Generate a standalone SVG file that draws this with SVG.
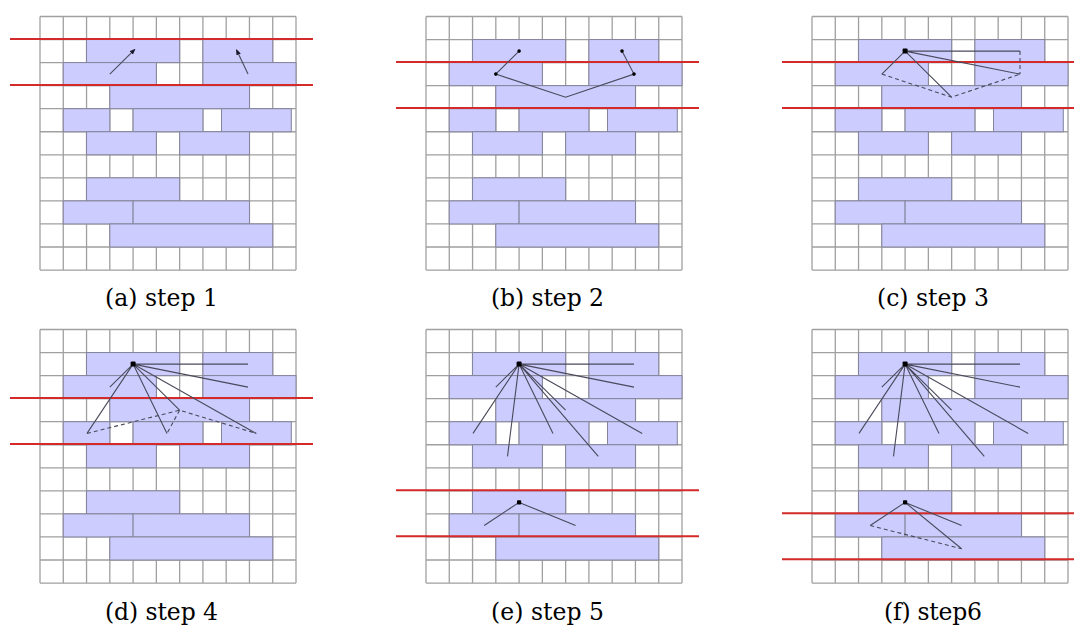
<svg xmlns="http://www.w3.org/2000/svg" xmlns:xlink="http://www.w3.org/1999/xlink" width="1074" height="628" viewBox="0 0 1074 628">
<style>
.gl{fill:none;stroke:#a0a0a0;stroke-width:1.3}
.br{fill:#ccccff;stroke:#84849a;stroke-width:1}
.red{stroke:#d42a2a;stroke-width:2;fill:none}
.ln{stroke:#4a4a5c;stroke-width:1.1;fill:none}
.dl{stroke:#4a4a5c;stroke-width:1.1;fill:none;stroke-dasharray:4 3}
.dot{fill:#000}
.cap{font-family:'DejaVu Serif','Liberation Serif',serif;font-size:23.5px;fill:#000}
</style>
<defs>
<marker id="ah" viewBox="0 0 10 10" refX="8" refY="5" markerWidth="6" markerHeight="6" orient="auto" markerUnits="userSpaceOnUse">
<path d="M0,1 L10,5 L0,9 Z" fill="#1a1a2a"/>
</marker>
<g id="grid">
<rect x="0" y="0" width="256" height="253.55" fill="#fff"/>
<path class="gl" d="M0 0V253.55M23.27 0V253.55M46.55 0V253.55M69.82 0V253.55M93.09 0V253.55M116.36 0V253.55M139.64 0V253.55M162.91 0V253.55M186.18 0V253.55M209.45 0V253.55M232.73 0V253.55M256 0V253.55M0 0H256M0 23.05H256M0 46.1H256M0 69.15H256M0 92.2H256M0 115.25H256M0 138.3H256M0 161.35H256M0 184.4H256M0 207.45H256M0 230.5H256M0 253.55H256"/>
<rect class="br" x="46.55" y="23.05" width="93.09" height="23.05"/>
<rect class="br" x="162.91" y="23.05" width="69.82" height="23.05"/>
<rect class="br" x="23.27" y="46.1" width="93.09" height="23.05"/>
<rect class="br" x="162.91" y="46.1" width="93.09" height="23.05"/>
<rect class="br" x="69.82" y="69.15" width="139.64" height="23.05"/>
<rect class="br" x="23.27" y="92.2" width="46.55" height="23.05"/>
<rect class="br" x="93.09" y="92.2" width="69.82" height="23.05"/>
<rect class="br" x="181.5" y="92.2" width="69.8" height="23.05"/>
<rect class="br" x="46.55" y="115.25" width="69.82" height="23.05"/>
<rect class="br" x="139.64" y="115.25" width="69.82" height="23.05"/>
<rect class="br" x="46.55" y="161.35" width="93.09" height="23.05"/>
<rect class="br" x="23.27" y="184.4" width="69.82" height="23.05"/>
<rect class="br" x="93.09" y="184.4" width="116.36" height="23.05"/>
<rect class="br" x="69.82" y="207.45" width="162.91" height="23.05"/>
</g>
<g id="fan">
<path class="ln" d="M93.1 34.6L208 34.6M93.1 34.6L208 57.6M93.1 34.6L69.8 57.6M93.1 34.6L47 103.9M93.1 34.6L81.5 126.9M93.1 34.6L127 103.9M93.1 34.6L139.6 80.7M93.1 34.6L172.3 126.9M93.1 34.6L216.2 103.9"/>
<rect class="dot" x="90.6" y="32.1" width="5" height="5" rx="1"/>
</g>
</defs>

<g id="panel-a" transform="translate(40,16.5)">
<use href="#grid"/>
<g id="sweep-a"><path class="red" d="M-30 22.4H273M-30 68.5H273"/></g>
<g id="connectors-a">
<path class="ln" d="M69.8 57.6L94.6 33.2" marker-end="url(#ah)"/>
<path class="ln" d="M208 57.6L196.6 33.6" marker-end="url(#ah)"/>
</g>
</g>

<g id="panel-b" transform="translate(426,16.5)">
<use href="#grid"/>
<g id="sweep-b"><path class="red" d="M-30 45.4H273M-30 91.5H273"/></g>
<g id="connectors-b">
<path class="ln" d="M93.1 34.6L69.8 57.6L139.6 80.7L208 57.6L196 34.6"/>
<circle class="dot" cx="93.1" cy="34.6" r="1.8"/>
<circle class="dot" cx="196" cy="34.6" r="1.8"/>
<circle class="dot" cx="69.8" cy="57.6" r="1.8"/>
<circle class="dot" cx="208" cy="57.6" r="1.8"/>
</g>
</g>

<g id="panel-c" transform="translate(812,16.5)">
<use href="#grid"/>
<g id="sweep-c"><path class="red" d="M-30 45.4H273M-30 91.5H273"/></g>
<g id="connectors-c">
<path class="ln" d="M93.1 34.6L208 34.6M93.1 34.6L208 57.6M93.1 34.6L139.6 80.7M93.1 34.6L69.8 57.6"/>
<path class="dl" d="M69.8 57.6L139.6 80.7L208 57.6M208 34.6L208 57.6"/>
<rect class="dot" x="90.6" y="32.1" width="5" height="5" rx="1"/>
</g>
</g>

<g id="panel-d" transform="translate(40,329.5)">
<use href="#grid"/>
<g id="sweep-d"><path class="red" d="M-30 68.5H273M-30 114.6H273"/></g>
<g id="connectors-d">
<path class="ln" d="M93.1 34.6L208 34.6M93.1 34.6L208 57.6M93.1 34.6L69.8 57.6M93.1 34.6L47 103.9M93.1 34.6L127 103.9M93.1 34.6L139.6 80.7M93.1 34.6L216.2 103.9"/>
<path class="dl" d="M47 103.9L139.6 80.7L216.2 103.9M139.6 80.7L127 103.9"/>
<rect class="dot" x="90.6" y="32.1" width="5" height="5" rx="1"/>
</g>
</g>

<g id="panel-e" transform="translate(426,329.5)">
<use href="#grid"/>
<g id="sweep-e"><path class="red" d="M-30 160.7H273M-30 206.8H273"/></g>
<g id="connectors-e">
<use href="#fan"/>
<path class="ln" d="M93.1 172.9L58.2 196M93.1 172.9L149.6 196"/>
<rect class="dot" x="91" y="170.8" width="4.2" height="4.2" rx="0.8"/>
</g>
</g>

<g id="panel-f" transform="translate(812,329.5)">
<use href="#grid"/>
<g id="sweep-f"><path class="red" d="M-30 183.7H273M-30 229.8H273"/></g>
<g id="connectors-f">
<use href="#fan"/>
<path class="ln" d="M93.1 172.9L58.2 196M93.1 172.9L149.6 196M93.1 172.9L149.6 219.3"/>
<path class="dl" d="M58.2 196L149.6 219.3"/>
<rect class="dot" x="91" y="170.8" width="4.2" height="4.2" rx="0.8"/>
</g>
</g>

<g id="captions">
<text class="cap" x="161.5" y="306" text-anchor="middle" textLength="113" lengthAdjust="spacing">(a) step 1</text>
<text class="cap" x="547.5" y="306" text-anchor="middle" textLength="113" lengthAdjust="spacing">(b) step 2</text>
<text class="cap" x="933" y="306" text-anchor="middle" textLength="112" lengthAdjust="spacing">(c) step 3</text>
<text class="cap" x="161.5" y="620" text-anchor="middle" textLength="113" lengthAdjust="spacing">(d) step 4</text>
<text class="cap" x="547.5" y="620" text-anchor="middle" textLength="113" lengthAdjust="spacing">(e) step 5</text>
<text class="cap" x="933" y="620" text-anchor="middle" textLength="98" lengthAdjust="spacing">(f) step6</text>
</g>
</svg>
